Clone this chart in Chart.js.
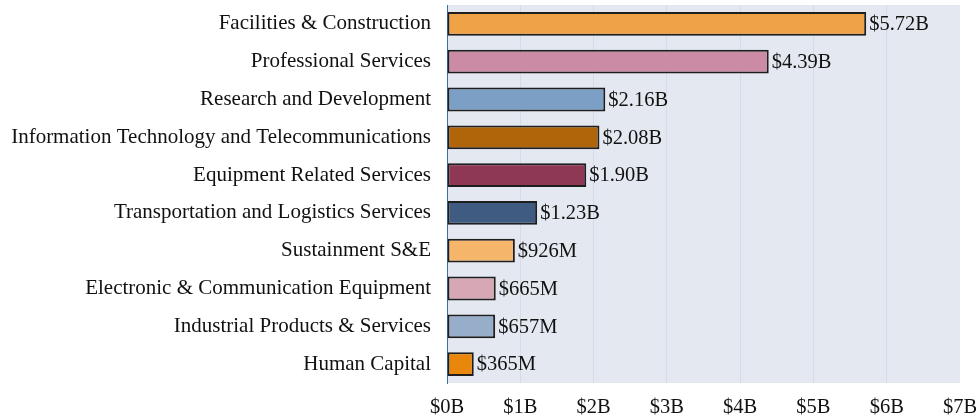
<!DOCTYPE html>
<html>
<head>
<meta charset="utf-8">
<script src="https://cdn.jsdelivr.net/npm/chart.js@4/dist/chart.umd.min.js"></script>
<style>
  html, body { margin: 0; padding: 0; background: #fff; }
  canvas { display: block; }
</style>
</head>
<body>
<canvas id="barChartSpend" width="976" height="418"></canvas>
<script>
// spend by portfolio group, in billions of dollars
var categories = [
    "Facilities & Construction",
    "Professional Services",
    "Research and Development",
    "Information Technology and Telecommunications",
    "Equipment Related Services",
    "Transportation and Logistics Services",
    "Sustainment S&E",
    "Electronic & Communication Equipment",
    "Industrial Products & Services",
    "Human Capital"
];
var spend = [5.72, 4.39, 2.16, 2.08, 1.90, 1.23, 0.926, 0.665, 0.657, 0.365];
var barColors = [
    '#f0a346', '#cc8ba5', '#7b9fc5', '#b0650b', '#8f3856',
    '#405b81', '#f5b66b', '#d6a7b4', '#96aeca', '#e9870d'
];
var xTicks = ["$0B", "$1B", "$2B", "$3B", "$4B", "$5B", "$6B", "$7B"];

var serif = "'Liberation Serif', 'DejaVu Serif', serif";

function money(v) {
    if (v >= 1) return "$" + v.toFixed(2) + "B";
    return "$" + Math.round(v * 1000) + "M";
}

// fill the plot area behind the grid
var plotBackground = {
    id: 'plotBackground',
    beforeDraw: function (chart) {
        var a = chart.chartArea, c = chart.ctx;
        c.save();
        c.fillStyle = '#e4e9f1';
        c.fillRect(a.left, a.top, a.right - a.left, a.bottom - a.top);
        c.restore();
    }
};

// value text at the end of each bar
var barValues = {
    id: 'barValues',
    afterDatasetsDraw: function (chart) {
        var c = chart.ctx;
        var meta = chart.getDatasetMeta(0);
        c.save();
        c.font = "20.5px " + serif;
        c.fillStyle = '#111';
        c.textBaseline = 'middle';
        c.textAlign = 'left';
        meta.data.forEach(function (bar, i) {
            c.fillText(money(spend[i]), bar.x + 3, bar.y + 1);
        });
        c.restore();
    }
};

var ctx = document.getElementById("barChartSpend");
var spendChart = new Chart(ctx, {
    type: 'bar',
    data: {
        labels: categories,
        datasets: [{
            data: spend,
            backgroundColor: barColors,
            borderColor: '#1e1e1e',
            borderWidth: 2,
            borderSkipped: false,
            barPercentage: 0.63,
            categoryPercentage: 1
        }]
    },
    options: {
        indexAxis: 'y',
        responsive: false,
        animation: false,
        layout: { padding: { top: 5, right: 16, bottom: 0, left: 0 } },
        plugins: {
            legend: { display: false },
            tooltip: { enabled: false }
        },
        scales: {
            x: {
                min: 0,
                max: 7,
                ticks: {
                    stepSize: 1,
                    color: '#111',
                    font: { family: serif, size: 20.5 },
                    padding: 12,
                    callback: function (v, i) { return xTicks[i]; }
                },
                grid: {
                    color: function (c) { return c.index === 7 ? 'rgba(0,0,0,0)' : '#d3dce8'; },
                    drawTicks: false
                },
                border: { display: false },
                afterFit: function (scale) {
                    scale.height = 35;
                    scale.paddingLeft = 0;
                    scale.paddingRight = 0;
                }
            },
            y: {
                ticks: {
                    color: '#111',
                    font: { family: serif, size: 21 },
                    padding: 16
                },
                grid: { display: false, drawTicks: false },
                border: { color: '#3d6ea8', width: 1 },
                afterFit: function (scale) {
                    scale.width = 447;
                    scale.paddingTop = 0;
                    scale.paddingBottom = 0;
                }
            }
        }
    },
    plugins: [plotBackground, barValues]
});
</script>
</body>
</html>
